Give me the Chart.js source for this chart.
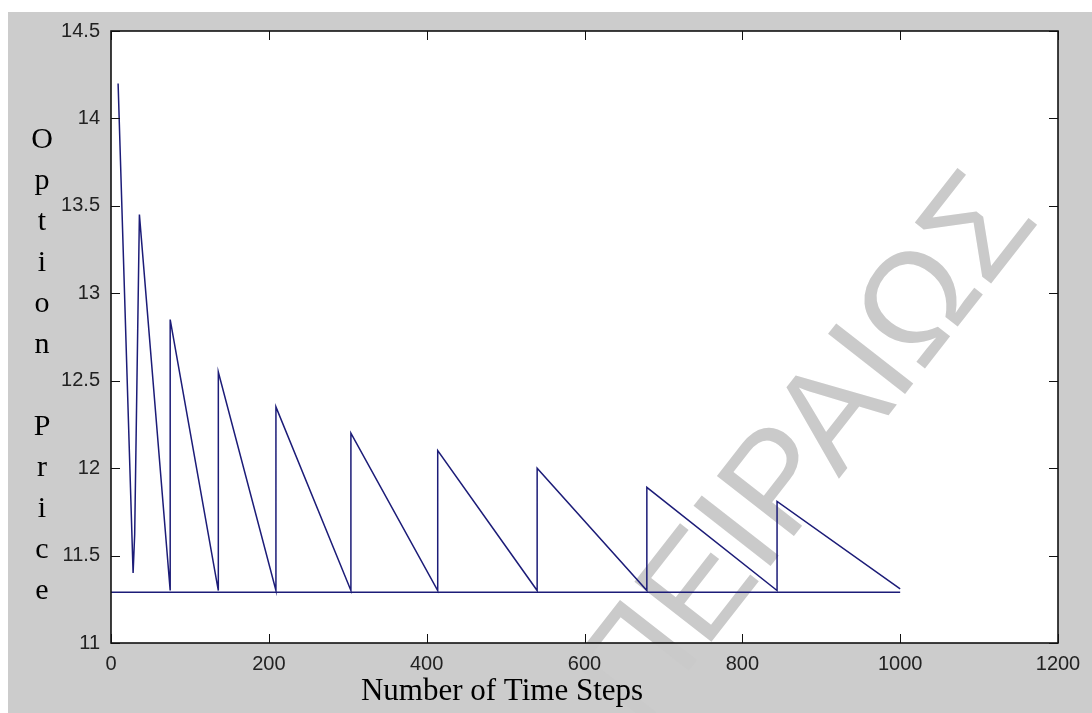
<!DOCTYPE html>
<html><head><meta charset="utf-8">
<script src="https://cdn.jsdelivr.net/npm/chart.js@4.4.1/dist/chart.umd.min.js"></script>
<style>html,body{margin:0;padding:0;background:#fff;}#wrap{width:1092px;height:713px;position:relative;}</style>
</head><body><div id="wrap"><canvas id="c" width="1092" height="713"></canvas></div>
<script>
// ---- data ----
const timeSteps    = [9, 28, 30, 36, 75, 75, 136, 136, 209, 209, 304, 304, 414, 414, 540, 540, 679, 679, 844, 844, 1000];
const optionPrices = [14.2, 11.4, 11.62, 13.45, 11.3, 12.85, 11.3, 12.55, 11.3, 12.35, 11.3, 12.2, 11.3, 12.1, 11.3, 12.0, 11.3, 11.89, 11.3, 11.81, 11.31];
const refSteps  = [0, 1000];
const refPrices = [11.29, 11.29];
const xTickValues = [0, 200, 400, 600, 800, 1000, 1200];
const yTickValues = [11, 11.5, 12, 12.5, 13, 13.5, 14, 14.5];
const xTitle = 'Number of Time Steps';
const yTitle = 'Option Price';
const watermarkText = 'ΠΕΙΡΑΙΩΣ';

const LINE = '#1c1c78';
const toPts = (xs, ys) => xs.map((x, i) => ({x, y: ys[i]}));

const decor = {
  id: 'decor',
  beforeDraw(chart) {
    const {ctx, chartArea: a} = chart;
    ctx.save();
    ctx.fillStyle = '#ffffff';
    ctx.fillRect(0, 0, chart.width, chart.height);
    ctx.fillStyle = '#cccccc';
    ctx.fillRect(8, 12, chart.width - 8, chart.height - 12);
    ctx.fillStyle = '#ffffff';
    ctx.fillRect(a.left, a.top, a.right - a.left, a.bottom - a.top);
    // faint watermark, drawn underneath axes, labels and lines
    ctx.translate(810, 452);
    ctx.rotate(-52 * Math.PI / 180);
    ctx.font = '142px "Liberation Sans", Arial, sans-serif';
    ctx.textAlign = 'center';
    ctx.textBaseline = 'middle';
    ctx.fillStyle = '#cacaca';
    ctx.fillText(watermarkText, 0, 0);
    ctx.restore();
  },
  afterDraw(chart) {
    const {ctx, chartArea: a, scales} = chart;
    ctx.save();
    ctx.strokeStyle = '#111';
    ctx.lineWidth = 1;
    const T = 9;
    ctx.beginPath();
    scales.x.ticks.forEach(t => {
      const px = Math.round(scales.x.getPixelForValue(t.value)) + 0.5;
      ctx.moveTo(px, a.bottom); ctx.lineTo(px, a.bottom - T);
      ctx.moveTo(px, a.top); ctx.lineTo(px, a.top + T);
    });
    scales.y.ticks.forEach(t => {
      const py = Math.round(scales.y.getPixelForValue(t.value)) + 0.5;
      ctx.moveTo(a.left, py); ctx.lineTo(a.left + T, py);
      ctx.moveTo(a.right, py); ctx.lineTo(a.right - T, py);
    });
    ctx.stroke();
    ctx.lineWidth = 1.6;
    ctx.strokeRect(a.left, a.top, a.right - a.left, a.bottom - a.top);
    // axis titles
    ctx.fillStyle = '#000';
    ctx.font = '31px "Liberation Serif", "Times New Roman", serif';
    ctx.textAlign = 'center';
    ctx.textBaseline = 'alphabetic';
    ctx.fillText(xTitle, 502, 700);
    ctx.font = '30px "Liberation Serif", "Times New Roman", serif';
    const letters = yTitle.split('');
    letters.forEach((ch, i) => { if (ch !== ' ') ctx.fillText(ch, 42, 148 + i * 41); });
    ctx.restore();
  }
};

const tickFont = {family: '"Liberation Sans", Arial, sans-serif', size: 20};

new Chart(document.getElementById('c'), {
  type: 'scatter',
  data: {
    datasets: [
      {data: toPts(timeSteps, optionPrices), showLine: true, borderColor: LINE, borderWidth: 1.5, pointRadius: 0, fill: false, tension: 0},
      {data: toPts(refSteps, refPrices), showLine: true, borderColor: LINE, borderWidth: 1.5, pointRadius: 0, fill: false, tension: 0}
    ]
  },
  options: {
    responsive: false,
    animation: false,
    devicePixelRatio: 1,
    layout: {padding: {top: 31, right: 34, left: 0, bottom: 0}},
    plugins: {legend: {display: false}, tooltip: {enabled: false}},
    scales: {
      x: {
        type: 'linear', min: 0, max: 1200,
        afterBuildTicks: s => { s.ticks = xTickValues.map(v => ({value: v})); },
        afterFit: s => { s.height = 70; },
        grid: {display: false, drawTicks: false},
        border: {display: false},
        ticks: {font: tickFont, color: '#222', padding: 9, maxRotation: 0, autoSkip: false, callback: v => String(v)}
      },
      y: {
        type: 'linear', min: 11, max: 14.5,
        afterBuildTicks: s => { s.ticks = yTickValues.map(v => ({value: v})); },
        afterFit: s => { s.width = 111; },
        grid: {display: false, drawTicks: false},
        border: {display: false},
        ticks: {font: tickFont, color: '#222', padding: 11, autoSkip: false, callback: v => String(v)}
      }
    }
  },
  plugins: [decor]
});
</script></body></html>
